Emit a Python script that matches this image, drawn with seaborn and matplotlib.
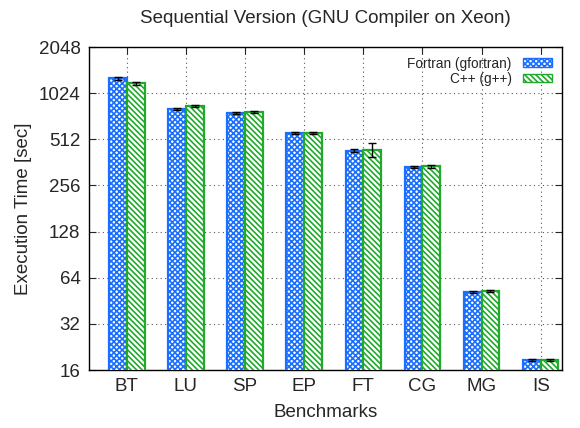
import numpy as np
import pandas as pd
import seaborn as sns
import matplotlib.pyplot as plt
from matplotlib.ticker import FixedLocator, FixedFormatter, NullLocator

benchmarks = ['BT', 'LU', 'SP', 'EP', 'FT', 'CG', 'MG', 'IS']
fortran_time = [1284, 805, 757, 561, 432, 339, 51.8, 18.6]
fortran_err = [30, 14, 12, 8, 8, 6, 0.8, 0.3]
cpp_time = [1191, 846, 769, 561, 438, 341, 52.6, 18.6]
cpp_err = [28, 18, 12, 8, 48, 6, 0.8, 0.4]
compilers = ['Fortran (gfortran)', 'C++ (g++)']
y_ticks = [16, 32, 64, 128, 256, 512, 1024, 2048]

df = pd.DataFrame({
    'Benchmark': benchmarks * 2,
    'Compiler': [compilers[0]] * len(benchmarks) + [compilers[1]] * len(benchmarks),
    'Time': fortran_time + cpp_time,
})

sns.set_style('ticks')
plt.rcParams['font.family'] = ['Liberation Sans', 'DejaVu Sans']
plt.rcParams['hatch.linewidth'] = 1.2

fig, ax = plt.subplots(figsize=(5.8, 4.28), dpi=100)
fig.subplots_adjust(left=0.153, right=0.969, top=0.890, bottom=0.1355)

colors = {'Fortran (gfortran)': '#1a6fff', 'C++ (g++)': '#1faa2c'}
hatches = {'Fortran (gfortran)': 'xxxxxx', 'C++ (g++)': '\\' * 6}

sns.barplot(data=df, x='Benchmark', y='Time', hue='Compiler', order=benchmarks,
            hue_order=compilers, errorbar=None, width=0.6, ax=ax,
            palette=['white', 'white'], zorder=3)

ax.set_yscale('log', base=2)

# error bars drawn at the centre of each seaborn bar
errs = {compilers[0]: fortran_err, compilers[1]: cpp_err}
vals = {compilers[0]: fortran_time, compilers[1]: cpp_time}
for cont, comp in zip(ax.containers, compilers):
    xs = []
    for bar in cont:
        bar.set_facecolor('white')
        bar.set_edgecolor(colors[comp])
        bar.set_hatch(hatches[comp])
        bar.set_linewidth(1.6)
        xs.append(bar.get_x() + bar.get_width() / 2)
    ax.errorbar(xs, vals[comp], yerr=errs[comp], fmt='none', ecolor='black',
                elinewidth=1.0, capsize=3, capthick=1.0, zorder=5)

ax.set_ylim(16, 2048)
ax.set_xlim(-0.643, 7.36)
ax.yaxis.set_major_locator(FixedLocator(y_ticks))
ax.yaxis.set_major_formatter(FixedFormatter([str(t) for t in y_ticks]))
ax.yaxis.set_minor_locator(NullLocator())

ax.grid(True, which='major', color='#555555', linestyle=(0, (1, 3)), linewidth=0.8, zorder=0)
ax.set_axisbelow(True)
ax.tick_params(direction='in', top=True, right=True, length=5, width=0.8, labelsize=13.5, pad=6)
for s in ax.spines.values():
    s.set_linewidth(1.0)
    s.set_color('black')

ax.set_title('Sequential Version (GNU Compiler on Xeon)', fontsize=13.5, pad=17)
ax.set_xlabel('Benchmarks', fontsize=13.5, labelpad=6)
ax.set_ylabel('Execution Time [sec]', fontsize=13.5, labelpad=5)

leg = ax.legend(loc='upper right', frameon=False, markerfirst=False, fontsize=9.8,
                handlelength=2.2, handleheight=0.6, handletextpad=0.8,
                labelspacing=0.1, borderaxespad=0.3)
for h, comp in zip(leg.get_patches(), compilers):
    h.set_facecolor('white')
    h.set_edgecolor(colors[comp])
    h.set_hatch(hatches[comp])

fig.savefig('out.png', dpi=100)
